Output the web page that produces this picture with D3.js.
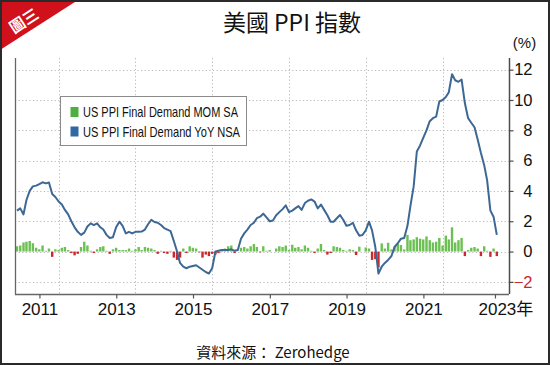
<!DOCTYPE html>
<html><head><meta charset="utf-8">
<script src="https://cdn.jsdelivr.net/npm/d3@7"></script>
<style>
body{margin:0;background:#fff}
svg{display:block}
text{font-family:"Liberation Sans",Arial,"Noto Sans CJK TC",sans-serif}
</style>
</head><body>
<svg id="c" width="550" height="365"></svg>
<script>
// ---- data ----
const startMonth = [2010, 10]; // Nov 2010 (JS month index)
const yoy = [
  2.7, 2.85,
  2.45, 3.4, 4.0, 4.3, 4.35, 4.45, 4.57, 4.5, 4.55, 3.8, 3.6, 3.3,
  3.1, 2.75, 2.45, 2.0, 1.6, 1.3, 1.1, 1.25, 1.65, 1.86, 1.75, 1.86,
  1.6, 1.45, 1.1, 0.9, 0.95, 1.6, 1.97, 1.7, 1.2, 1.3, 1.2, 1.3,
  1.3, 1.32, 1.45, 1.8, 2.1, 1.95, 1.9, 1.75, 1.55, 1.45, 1.35, 0.7,
  0.0, -0.75, -1.0, -1.1, -1.0, -0.95, -0.9, -1.05, -1.2, -1.35, -1.45, -1.1,
  0.0, 0.05, 0.1, 0.1, 0.1, 0.15, 0.05, 0.1, 0.85, 1.2, 1.45, 1.75,
  1.9, 2.2, 2.3, 2.5, 2.25, 2.0, 2.05, 2.4, 2.6, 2.8, 3.05, 2.6,
  2.7, 2.85, 3.0, 2.75, 3.2, 3.35, 3.44, 3.3, 2.85, 3.1, 2.75, 2.4,
  1.97, 1.97, 2.2, 2.41, 2.1, 1.7, 1.75, 1.9, 1.4, 1.05, 1.09, 1.4,
  1.97, 1.4, 0.3, -1.45, -1.0, -0.75, -0.55, -0.3, 0.3, 0.55, 0.85, 0.9,
  1.7, 3.0, 4.3, 6.6, 7.0, 7.5, 8.0, 8.6, 8.8, 8.9, 9.9, 10.0,
  10.2, 10.5, 11.7, 11.3, 11.2, 11.35, 9.8, 8.8, 8.5, 8.2, 7.4, 6.5,
  5.7, 4.7, 2.7, 2.3, 1.1
];
const mom = [
  0.35, 0.4,
  0.6, 0.65, 0.7, 0.55, 0.25, 0.15, 0.4, 0.05, 0.2, -0.35, 0.15, 0.1,
  0.25, 0.3, 0.1, -0.1, -0.25, -0.15, 0.3, 0.65, 0.4, 0.05, -0.1, 0.15,
  0.3, 0.35, 0.05, -0.15, 0.15, 0.25, 0.1, 0.1, 0.1, 0.2, 0.05, 0.15,
  0.3, 0.1, 0.3, 0.25, 0.2, 0.1, -0.15, 0.05, -0.1, -0.15, 0.05, -0.4,
  -0.55, -0.4, 0.2, -0.1, 0.35, 0.25, 0.2, -0.05, -0.4, -0.2, -0.3, -0.15,
  -0.2, -0.1, 0.15, 0.2, 0.35, 0.4, -0.1, 0.0, 0.25, 0.3, 0.2, 0.35,
  0.5, 0.3, -0.05, 0.35, 0.05, 0.1, 0.0, 0.2, 0.35, 0.3, 0.4, 0.1,
  0.45, 0.25, 0.3, 0.15, 0.4, 0.25, 0.05, -0.1, 0.2, 0.5, 0.1, -0.2,
  -0.1, 0.35, 0.3, 0.25, 0.1, 0.05, 0.15, 0.1, -0.23, 0.32, 0.0, 0.27,
  0.2, -0.55, -0.5, -1.05, 0.54, 0.2, 0.58, 0.14, 0.32, 0.5, 0.43, 0.14,
  1.1, 0.75, 0.8, 0.95, 0.85, 0.8, 1.0, 0.75, 0.6, 0.65, 0.9, 0.4,
  1.05, 0.8, 1.6, 0.6, 0.75, 0.9, -0.3, 0.1, 0.25, 0.3, 0.2, -0.3,
  0.35, 0.05, -0.35, 0.2, -0.3
];
const yTicks = [-2, 0, 2, 4, 6, 8, 10, 12];
const labelYears = [2011, 2013, 2015, 2017, 2019, 2021, 2023];
const gridYears = [2012, 2014, 2016, 2018, 2020, 2022];
const titleText = "美國 PPI 指數";
const unitText = "(%)";
const sourceText = "資料來源： Zerohedge";
const cornerText = "圖三";
const legendLabels = ["US PPI Final Demand MOM SA", "US PPI Final Demand YoY NSA"];

// ---- layout ----
const L = 15, R = 509, T = 58, B = 294;
const svg = d3.select("#c");
const domainStart = new Date(2010, 10, 12), domainEnd = new Date(2023, 8, 25);
const x = d3.scaleTime().domain([domainStart, domainEnd]).range([L, R]);
const y = d3.scaleLinear().domain([-2.8, 12.77]).range([B, T]);

const dates = yoy.map((_, i) => new Date(startMonth[0], startMonth[1] + i + 1, 1));

// background
svg.append("rect").attr("width", 550).attr("height", 365).attr("fill", "#fff");

// grid
const grid = svg.append("g").attr("stroke", "#b8b8b8").attr("stroke-width", 1).attr("stroke-dasharray", "1.2,2.4");
grid.selectAll("line.h").data(yTicks).join("line")
  .attr("x1", L).attr("x2", R).attr("y1", d => Math.round(y(d)) + 0.5).attr("y2", d => Math.round(y(d)) + 0.5);
grid.selectAll("line.v").data(gridYears).join("line")
  .attr("x1", d => Math.round(x(new Date(d, 0, 1))) + 0.5).attr("x2", d => Math.round(x(new Date(d, 0, 1))) + 0.5)
  .attr("y1", T).attr("y2", B);

// bars
svg.append("g").selectAll("rect").data(mom).join("rect")
  .attr("x", (d, i) => x(dates[i]) - 1.2)
  .attr("width", 2.4)
  .attr("y", d => Math.min(y(d), y(0)))
  .attr("height", d => Math.abs(y(d) - y(0)))
  .attr("fill", d => d >= 0 ? "#6cc052" : "#c8282e");

// line
svg.append("path").datum(yoy)
  .attr("fill", "none").attr("stroke", "#3d6894").attr("stroke-width", 2).attr("stroke-linejoin", "round")
  .attr("d", d3.line().x((d, i) => x(dates[i])).y(d => y(d)));

// frame
svg.append("line").attr("x1", L + 0.5).attr("x2", L + 0.5).attr("y1", T).attr("y2", B + 0.5).attr("stroke", "#666").attr("stroke-width", 1.3);
svg.append("line").attr("x1", L).attr("x2", R).attr("y1", B + 0.5).attr("y2", B + 0.5).attr("stroke", "#666").attr("stroke-width", 1.3);

// right axis
const yAxis = d3.axisRight(y).tickValues(yTicks).tickSize(4).tickPadding(100).tickFormat(d3.format("d"));
const ya = svg.append("g").attr("transform", `translate(${R + 0.5},0)`).call(yAxis);
ya.select(".domain").attr("stroke", "#4a4f4a").attr("stroke-width", 1.5).attr("d", `M0,${T}V${B}`);
ya.selectAll(".tick line").attr("stroke", "#4a4f4a").attr("stroke-width", 1.2);
ya.selectAll(".tick text")
  .attr("x", 23).attr("text-anchor", "end").attr("font-size", 16.5)
  .attr("fill", d => d < 0 ? "#c8282e" : "#111")
  .style("font-family", "'Liberation Sans', Arial, sans-serif");

// bottom axis
const tickDates = labelYears.map(yr => {
  const a = Math.max(+new Date(yr, 0, 1), +domainStart);
  const b = Math.min(+new Date(yr + 1, 0, 1), +domainEnd);
  return new Date((a + b) / 2);
});
const xAxis = d3.axisBottom(x).tickValues(tickDates).tickSize(4).tickPadding(4)
  .tickFormat(d => d.getFullYear());
const xa = svg.append("g").attr("transform", `translate(0,${B + 0.5})`).call(xAxis);
xa.select(".domain").remove();
xa.selectAll(".tick line").attr("stroke", "#555").attr("stroke-width", 1.2);
xa.selectAll(".tick text").attr("font-size", 17).attr("fill", "#111")
  .style("font-family", "'Liberation Sans', Arial, sans-serif")
  .each(function(d, i) {
    if (i === labelYears.length - 1) {
      d3.select(this).append("tspan").text("年").style("font-family", "'Noto Sans CJK TC', sans-serif");
      d3.select(this).attr("text-anchor", "start").attr("x", -17);
    }
  });

// legend
const lg = svg.append("g");
lg.append("rect").attr("x", 60.5).attr("y", 96.5).attr("width", 186).attr("height", 49)
  .attr("fill", "#fff").attr("stroke", "#8a8a8a").attr("stroke-width", 1);
const legColors = ["#4cb03e", "#2f68a3"];
legendLabels.forEach((t, i) => {
  lg.append("rect").attr("x", 70.5).attr("y", 107 + i * 19.5).attr("width", 8).attr("height", 10).attr("fill", legColors[i]);
  lg.append("text").attr("x", 83).attr("y", 117 + i * 19.5).attr("font-size", 14.5).attr("fill", "#111")
    .attr("textLength", i === 0 ? 155 : 157).attr("lengthAdjust", "spacingAndGlyphs").text(t);
});

// titles
svg.append("text").attr("x", 292).attr("y", 31).attr("text-anchor", "middle").attr("font-size", 23)
  .attr("fill", "#111").style("font-family", "'Noto Sans CJK TC', 'Noto Sans CJK SC', sans-serif").text(titleText);
svg.append("text").attr("x", 524.5).attr("y", 48).attr("text-anchor", "middle").attr("font-size", 15)
  .attr("fill", "#111").text(unitText);
svg.append("text").attr("x", 273).attr("y", 358).attr("text-anchor", "middle").attr("font-size", 15)
  .attr("fill", "#111").style("font-family", "'Noto Sans CJK TC', 'Liberation Sans', sans-serif").text(sourceText);

// corner badge
svg.append("path").attr("d", "M0,0H78L0,50Z").attr("fill", "#d0101a");
svg.append("text").attr("transform", "translate(24,21) rotate(-33)").attr("text-anchor", "middle")
  .attr("dy", "0.35em").attr("font-size", 15.5).attr("font-weight", "bold").attr("fill", "#fff")
  .style("font-family", "'Noto Sans CJK TC', sans-serif").text(cornerText);

// outer border
svg.append("rect").attr("x", 1).attr("y", 1).attr("width", 548).attr("height", 363)
  .attr("fill", "none").attr("stroke", "#2a2a2a").attr("stroke-width", 2);
</script>
</body></html>
